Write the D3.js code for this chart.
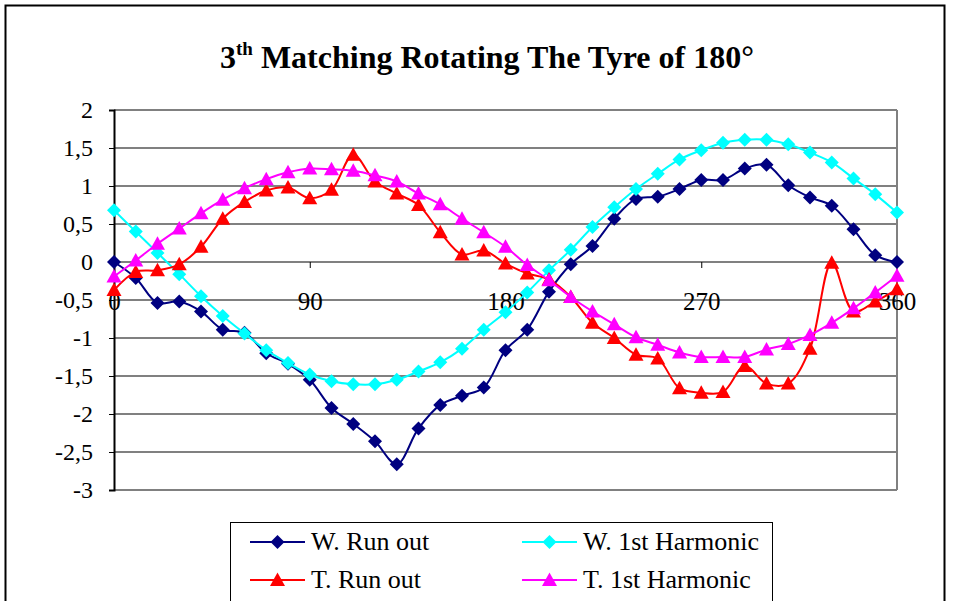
<!DOCTYPE html>
<html>
<head>
<meta charset="utf-8">
<script src="https://cdn.jsdelivr.net/npm/d3@7"></script>
<style>
  body { margin: 0; background: #fff; }
  text { font-family: "Times New Roman", "Liberation Serif", serif; }
</style>
</head>
<body>
<script>
var width = 959, height = 601;

// angles every 10 degrees
var angles = d3.range(0, 361, 10);
var xTicks = [0, 90, 180, 270, 360];
var yTicks = [2, 1.5, 1, 0.5, 0, -0.5, -1, -1.5, -2, -2.5, -3];

var wRunOut = [0, -0.21, -0.54, -0.52, -0.65, -0.89, -0.93, -1.2, -1.34, -1.55,
  -1.92, -2.13, -2.36, -2.66, -2.19, -1.88, -1.76, -1.65, -1.16, -0.89,
  -0.39, -0.03, 0.21, 0.57, 0.83, 0.86, 0.96, 1.08, 1.08, 1.23,
  1.28, 1.01, 0.85, 0.74, 0.43, 0.09, 0];
var wHarm = [0.68, 0.4, 0.12, -0.16, -0.45, -0.71, -0.94, -1.16, -1.33, -1.48,
  -1.57, -1.61, -1.61, -1.55, -1.44, -1.32, -1.14, -0.89, -0.66, -0.4,
  -0.11, 0.16, 0.46, 0.72, 0.96, 1.16, 1.35, 1.47, 1.57, 1.61,
  1.61, 1.55, 1.44, 1.31, 1.1, 0.89, 0.65];
var tRunOut = [-0.37, -0.13, -0.11, -0.03, 0.2, 0.57, 0.79, 0.94, 0.98, 0.84,
  0.95, 1.41, 1.06, 0.9, 0.75, 0.39, 0.1, 0.15, -0.02, -0.15,
  -0.23, -0.46, -0.8, -1.0, -1.22, -1.27, -1.66, -1.72, -1.71, -1.37,
  -1.6, -1.6, -1.14, -0.01, -0.65, -0.52, -0.36];
var tHarm = [-0.19, 0.02, 0.24, 0.44, 0.64, 0.82, 0.97, 1.09, 1.18, 1.23,
  1.22, 1.2, 1.14, 1.06, 0.9, 0.76, 0.57, 0.39, 0.2, -0.04,
  -0.24, -0.46, -0.65, -0.82, -0.99, -1.09, -1.19, -1.25, -1.25, -1.25,
  -1.15, -1.08, -0.96, -0.8, -0.61, -0.4, -0.18];

var seriesNames = ["W. Run out", "W. 1st Harmonic", "T. Run out", "T. 1st Harmonic"];
var seriesColors = ["#000080", "#00ffff", "#ff0000", "#ff00ff"];
var seriesShapes = ["diamond", "diamond", "triangle", "triangle"];
var seriesValues = [wRunOut, wHarm, tRunOut, tHarm];

var margin = {top: 110, left: 114, right: 62, bottom: 111};

var svg = d3.select("body").append("svg")
    .attr("width", width)
    .attr("height", height);

// outer chart border
svg.append("rect")
    .attr("x", 5.5).attr("y", 5.5)
    .attr("width", 939).attr("height", 620)
    .attr("fill", "none")
    .attr("stroke", "#000")
    .attr("stroke-width", 2);

var x = d3.scaleLinear().domain([0, 360]).range([margin.left, width - margin.right]);
var y = d3.scaleLinear().domain([-3, 2]).range([height - margin.bottom, margin.top]);

// title
var title = svg.append("text")
    .attr("x", 487).attr("y", 68)
    .attr("text-anchor", "middle")
    .style("font-size", "32px")
    .style("font-weight", "bold");
title.append("tspan").text("3");
title.append("tspan").attr("dy", -13).style("font-size", "19px").text("th");
title.append("tspan").attr("dy", 13).text(" Matching Rotating The Tyre of 180°");

// gridlines
svg.append("g").selectAll("line")
    .data(yTicks)
    .enter().append("line")
    .attr("x1", x(0)).attr("x2", x(360))
    .attr("y1", function(d) { return y(d); })
    .attr("y2", function(d) { return y(d); })
    .attr("stroke", "#808080")
    .attr("stroke-width", 2);

// right border of plot
svg.append("line")
    .attr("x1", x(360)).attr("x2", x(360))
    .attr("y1", y(2)).attr("y2", y(-3))
    .attr("stroke", "#808080").attr("stroke-width", 2);

// y axis
var yAxis = d3.axisLeft(y)
    .tickValues(yTicks)
    .tickSize(5)
    .tickPadding(16)
    .tickFormat(function(d) { return String(d).replace(".", ","); });

var yg = svg.append("g")
    .attr("transform", "translate(" + x(0) + ",0)")
    .call(yAxis);
yg.attr("font-family", null);
yg.select(".domain").attr("stroke", "#000").attr("stroke-width", 2);
yg.selectAll("text").style("font-size", "24px").attr("fill", "#000");

// x axis crossing at 0
var xAxis = d3.axisBottom(x)
    .tickValues(xTicks)
    .tickSize(6)
    .tickPadding(24);

var xg = svg.append("g")
    .attr("transform", "translate(0," + y(0) + ")")
    .call(xAxis);
xg.attr("font-family", null);
xg.select(".domain").remove();
xg.selectAll(".tick line").attr("stroke", "#000");
xg.selectAll("text").style("font-size", "25px").attr("fill", "#000");

function markerPath(shape) {
    if (shape == "diamond") return "M0,-7L7,0L0,7L-7,0Z";
    return "M0,-7.5L7.5,6L-7.5,6Z";
}

var line = d3.line()
    .x(function(d, i) { return x(angles[i]); })
    .y(function(d) { return y(d); })
    .curve(d3.curveCatmullRom.alpha(0.5));

var plots = svg.append("g");
seriesValues.forEach(function(vals, s) {
    var g = plots.append("g");
    g.append("path")
        .attr("d", line(vals))
        .attr("fill", "none")
        .attr("stroke", seriesColors[s])
        .attr("stroke-width", 2);
    g.selectAll("path.mark")
        .data(vals)
        .enter().append("path")
        .attr("class", "mark")
        .attr("d", markerPath(seriesShapes[s]))
        .attr("transform", function(d, i) { return "translate(" + x(angles[i]) + "," + y(d) + ")"; })
        .attr("fill", seriesColors[s]);
});

// legend
var legend = svg.append("g");
legend.append("rect")
    .attr("x", 230.5).attr("y", 522.5)
    .attr("width", 542).attr("height", 100)
    .attr("fill", "#fff")
    .attr("stroke", "#000").attr("stroke-width", 1);

var items = legend.selectAll("g.item")
    .data(seriesNames)
    .enter().append("g")
    .attr("class", "item")
    .attr("transform", function(d, i) {
        return "translate(" + (i % 2 == 0 ? 250 : 522) + "," + (i < 2 ? 542 : 580) + ")";
    });

items.append("line")
    .attr("x1", 0).attr("x2", 55)
    .attr("stroke", function(d, i) { return seriesColors[i]; })
    .attr("stroke-width", 2);
items.append("path")
    .attr("d", function(d, i) { return markerPath(seriesShapes[i]); })
    .attr("transform", "translate(27.5,0)")
    .attr("fill", function(d, i) { return seriesColors[i]; });
items.append("text")
    .attr("x", 61).attr("y", 8)
    .style("font-size", "26px")
    .text(function(d) { return d; });
</script>
</body>
</html>
